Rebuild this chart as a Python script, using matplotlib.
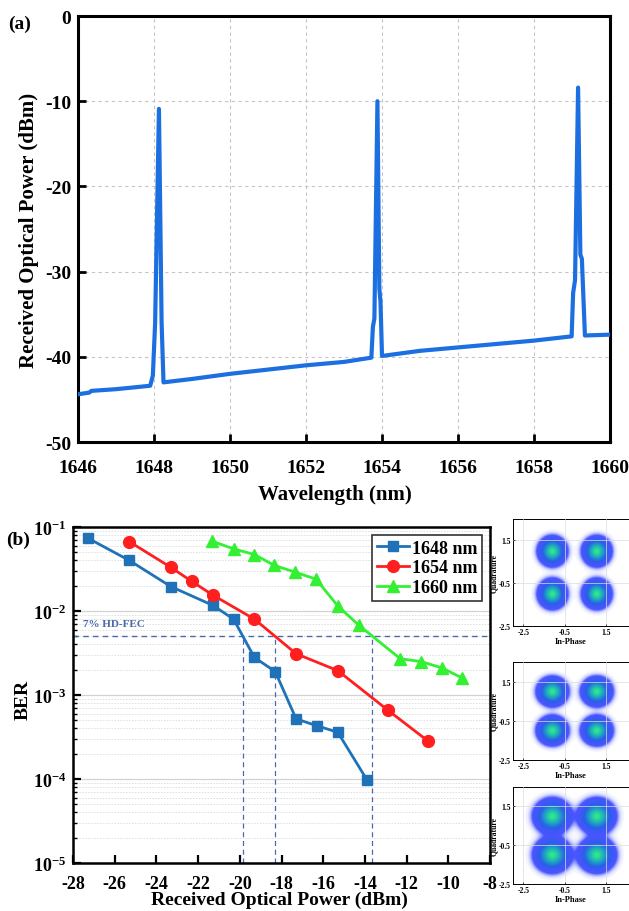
"""Two-panel figure: optical spectrum (a) and BER vs received power (b) with constellations."""

import matplotlib
matplotlib.use("Agg")
import matplotlib.pyplot as plt
from matplotlib.colors import LinearSegmentedColormap
from matplotlib.ticker import FixedLocator, LogLocator, NullFormatter, FuncFormatter
import numpy as np

plt.rcParams["font.family"] = ["Liberation Serif", "DejaVu Serif"]
plt.rcParams["font.weight"] = "bold"
plt.rcParams["axes.unicode_minus"] = False
plt.rcParams["mathtext.fontset"] = "custom"
plt.rcParams["mathtext.rm"] = "Liberation Serif:bold"
plt.rcParams["mathtext.bf"] = "Liberation Serif:bold"
plt.rcParams["mathtext.it"] = "Liberation Serif:bold:italic"
plt.rcParams["mathtext.default"] = "bf"

# ── (a) spectrum, key points ──
wavelength = [1646.0, 1646.3, 1646.35, 1647.0, 1647.9, 1647.97, 1648.03, 1648.13,
              1648.2, 1648.25, 1649.0, 1650.0, 1651.0, 1652.0, 1653.0, 1653.72,
              1653.76, 1653.8, 1653.88, 1653.93, 1653.96, 1654.0, 1655.0, 1656.0,
              1657.0, 1658.0, 1658.99, 1659.03, 1659.08, 1659.16, 1659.22, 1659.26,
              1659.34, 1660.0]
power_dbm = [-44.4, -44.2, -44.0, -43.8, -43.4, -42.2, -36.0, -10.9,
             -36.0, -43.0, -42.6, -42.0, -41.5, -41.0, -40.6, -40.1,
             -36.5, -35.5, -10.0, -32.0, -33.5, -39.9, -39.3, -38.9,
             -38.5, -38.1, -37.6, -32.5, -31.0, -8.4, -28.0, -28.5,
             -37.5, -37.4]

# ── (b) BER curves ──
p_1648 = [-27.3, -25.3, -23.3, -21.3, -20.3, -19.3, -18.3, -17.3, -16.3, -15.3, -13.9]
ber_1648 = [0.074, 0.040, 0.0195, 0.0117, 0.0080, 0.0028, 0.0019, 0.00052, 0.00043, 0.00036, 0.0000975]
p_1654 = [-25.3, -23.3, -22.3, -21.3, -19.3, -17.3, -15.3, -12.9, -10.95]
ber_1654 = [0.067, 0.033, 0.0225, 0.0155, 0.0080, 0.0031, 0.00195, 0.00066, 0.00028]
p_1660 = [-21.35, -20.3, -19.3, -18.35, -17.35, -16.35, -15.3, -14.3, -12.3, -11.3, -10.3, -9.35]
ber_1660 = [0.068, 0.055, 0.047, 0.035, 0.029, 0.024, 0.0115, 0.0068, 0.0027, 0.0025, 0.0021, 0.0016]

fec_limit = 5e-3
fec_crossings = [-19.85, -18.3, -13.65]

# constellation clusters (centre, spread) for the three insets
const_centres_i = [-1.1, 1.05]
const_centres_q = [1.0, -1.0]
const_sigma = [0.31, 0.33, 0.40]

BLUE = "#1f72b8"
RED = "#ff1f1f"
GREEN = "#33f033"
SPEC = "#1c6fe0"
FEC = "#4a68ad"

fig = plt.figure(figsize=(6.29, 9.12), dpi=100)

# ── panel (a) ──
ax1 = fig.add_axes([78 / 629, 1 - 443 / 912, 532 / 629, 426 / 912])
ax1.plot(wavelength, power_dbm, color=SPEC, lw=3, solid_joinstyle="round", zorder=3)
ax1.set_xlim(1646, 1660)
ax1.set_ylim(-50, 0)
ax1.set_xticks(np.arange(1646, 1661, 2))
ax1.set_yticks(np.arange(-50, 1, 10))
ax1.grid(True, color="#c4c4c4", lw=0.8, ls=(0, (3, 3)))
ax1.tick_params(direction="in", length=6, width=2, labelsize=14)
ax1.tick_params(axis="x", pad=12)
ax1.tick_params(axis="y", pad=5)
for s in ax1.spines.values():
    s.set_linewidth(2.2)
ax1.set_xlabel("Wavelength (nm)", fontsize=15, fontweight="bold")
ax1.set_ylabel("Received Optical Power (dBm)", fontsize=15, fontweight="bold")
ax1.xaxis.set_label_coords(0.483, -0.098)
ax1.yaxis.set_label_coords(-0.073, 0.5)
fig.text(20 / 629, 1 - 24 / 912, "(a)", fontsize=14, fontweight="bold", ha="center", va="center")

# ── panel (b) ──
ax2 = fig.add_axes([73 / 629, 1 - 864 / 912, 417 / 629, 336 / 912])
ax2.set_yscale("log")
ax2.set_xlim(-28, -8)
ax2.set_ylim(1e-5, 1e-1)
ax2.plot(p_1648, ber_1648, color=BLUE, lw=2, marker="s", ms=7.5, label="1648 nm", zorder=4)
ax2.plot(p_1654, ber_1654, color=RED, lw=2, marker="o", ms=8.5, label="1654 nm", zorder=4)
ax2.plot(p_1660, ber_1660, color=GREEN, lw=2, marker="^", ms=8.5, label="1660 nm", zorder=4)

ax2.axhline(fec_limit, color=FEC, lw=1, ls=(0, (4, 3)), zorder=2)
for xc in fec_crossings:
    ax2.plot([xc, xc], [1e-5, fec_limit], color=FEC, lw=0.9, ls=(0, (4, 3)), zorder=2)
ax2.text(-27.5, fec_limit * 1.25, "7% HD-FEC", color=FEC, fontsize=8, fontweight="bold",
         ha="left", va="bottom")

ax2.set_xticks(np.arange(-28, -7, 2))
ax2.yaxis.set_major_locator(LogLocator(base=10, numticks=10))
ax2.yaxis.set_minor_locator(LogLocator(base=10, subs=np.arange(2, 10), numticks=10))
ax2.yaxis.set_minor_formatter(NullFormatter())
ax2.yaxis.set_major_formatter(FuncFormatter(lambda v, _: r"$10^{%d}$" % round(np.log10(v))))
ax2.grid(True, which="major", axis="y", color="#d2d2d2", lw=0.9)
ax2.grid(True, which="minor", axis="y", color="#dedede", lw=0.7, ls=(0, (1.5, 1.5)))
ax2.tick_params(which="major", direction="in", length=6, width=1.6, labelsize=13)
ax2.tick_params(axis="x", which="major", pad=9)
ax2.tick_params(axis="y", which="major", pad=5)
ax2.tick_params(which="minor", direction="in", length=3, width=1)
for s in ax2.spines.values():
    s.set_linewidth(1.8)
ax2.set_xlabel("Received Optical Power (dBm)", fontsize=14, fontweight="bold")
ax2.set_ylabel("BER", fontsize=14, fontweight="bold")
ax2.xaxis.set_label_coords(0.496, -0.083)
ax2.yaxis.set_label_coords(-0.10, 0.488)
leg = ax2.legend(loc="upper right", fontsize=13, frameon=True, fancybox=False,
                 edgecolor="black", handlelength=1.8, handletextpad=0.15,
                 labelspacing=0.15, borderpad=0.25, borderaxespad=0.45)
leg.get_frame().set_linewidth(1.2)
for t in leg.get_texts():
    t.set_fontweight("bold")
fig.text(18 / 629, 1 - 540 / 912, "(b)", fontsize=14, fontweight="bold", ha="center", va="center")

# ── constellation insets ──
cmap = LinearSegmentedColormap.from_list(
    "const", [(0, "white"), (0.012, "#dfe2ff"), (0.05, "#4a55ff"), (0.3, "#2a5ee8"),
              (0.6, "#1f9cc8"), (0.85, "#20c8a8"), (1.0, "#38e48c")])
gi = np.linspace(-3.0, 2.6, 240)
gq = np.linspace(-2.5, 2.5, 220)
GI, GQ = np.meshgrid(gi, gq)

inset_boxes = [(520, 627), (663, 761), (788, 885)]
for (top, bottom), sig in zip(inset_boxes, const_sigma):
    axc = fig.add_axes([513 / 629, 1 - bottom / 912, 116 / 629, (bottom - top) / 912])
    dens = np.zeros_like(GI)
    for ci in const_centres_i:
        for cq in const_centres_q:
            dens += np.exp(-((GI - ci) ** 2 + (GQ - cq) ** 2) / (2 * sig ** 2))
    dens /= dens.max()
    axc.imshow(dens, extent=[-3.0, 2.6, -2.5, 2.5], origin="lower", cmap=cmap,
               aspect="auto", interpolation="bilinear", zorder=1)
    axc.set_xlim(-3.0, 2.6)
    axc.set_ylim(-2.5, 2.5)
    axc.xaxis.set_major_locator(FixedLocator([-2.5, -0.5, 1.5]))
    axc.yaxis.set_major_locator(FixedLocator([-2.5, -0.5, 1.5]))
    axc.grid(True, color="#dcdcdc", lw=0.5, zorder=0)
    axc.set_axisbelow(False)
    axc.tick_params(direction="in", length=1.5, width=0.5, labelsize=5.5, pad=1.5)
    for s in axc.spines.values():
        s.set_linewidth(0.7)
    axc.set_xlabel("In-Phase", fontsize=6, fontweight="bold", labelpad=1)
    axc.set_ylabel("Quadrature", fontsize=5.5, fontweight="bold", labelpad=1)

fig.savefig("out.png", dpi=100)
